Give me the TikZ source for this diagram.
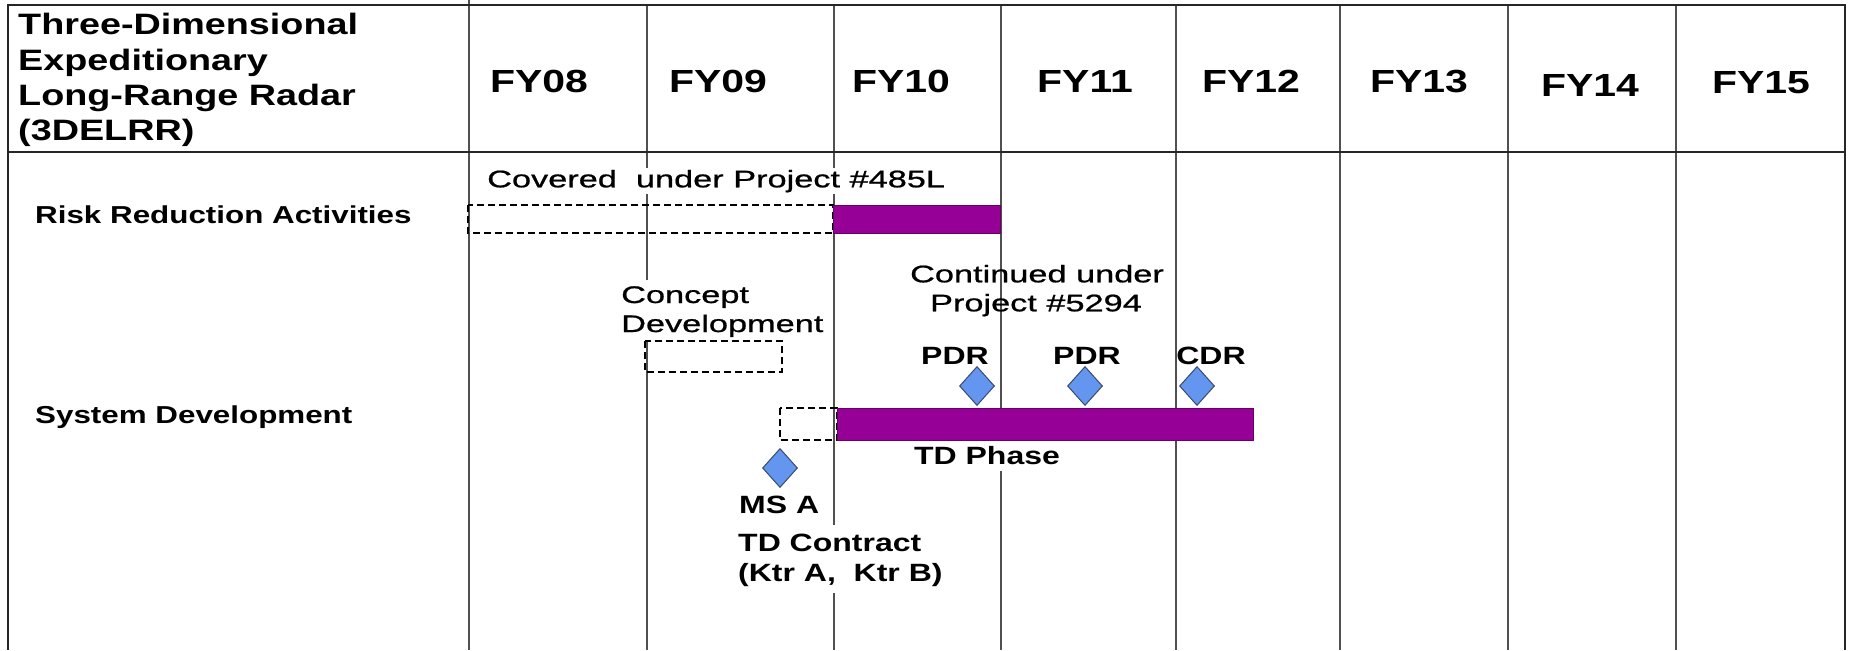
\documentclass[tikz,border=0pt]{standalone}
\usepackage{fontspec}
\setmainfont{Liberation Sans}[FakeStretch=1.28]
\newfontfamily\notefont{Liberation Sans}[FakeStretch=1.43, FakeBold=0.8]
\usetikzlibrary{shapes.geometric}
\definecolor{barpurple}{RGB}{150,0,150}
\definecolor{msblue}{RGB}{100,150,240}
\definecolor{msedge}{RGB}{55,75,110}
\definecolor{gridgray}{RGB}{80,80,80}
\begin{document}
\begin{tikzpicture}[x=1pt,y=-1pt,
  gridline/.style={gridgray, line width=1.3pt},
  frameline/.style={black!85, line width=2.2pt},
  hdr/.style={font=\fontsize{32}{36}\selectfont\bfseries, inner sep=0pt, anchor=base},
  ttl/.style={font=\fontsize{29.5}{35}\selectfont\bfseries, inner sep=0pt, anchor=base west},
  rowlbl/.style={font=\fontsize{24.5}{28}\selectfont\bfseries, inner sep=0pt, anchor=base west},
  note/.style={font=\notefont\fontsize{24}{28}\selectfont, inner sep=0pt},
  bnote/.style={font=\fontsize{25}{29}\selectfont\bfseries, inner sep=0pt},
  bar/.style={fill=barpurple, draw=barpurple!70!black, line width=1pt},
  plan/.style={draw=black, line width=1.3pt, dash pattern=on 7pt off 4pt},
  ms/.style={diamond, fill=msblue, draw=msedge, line width=1pt, minimum width=35pt, minimum height=39pt, inner sep=0pt}
]
\useasboundingbox (0,0) rectangle (1851,650);
\fill[white] (0,0) rectangle (1851,650);

% grid
\foreach \x in {647,834,1001,1176,1340,1508,1676}
  \draw[gridline] (\x,5) -- (\x,650);
\draw[gridline] (469,0) -- (469,650);
\draw[frameline] (8,650) -- (8,5) -- (1845,5) -- (1845,650);
\draw[frameline] (8,152) -- (1845,152);

% header
\node[ttl] (t1) at (18,35) {Three-Dimensional};
\node[ttl] (t2) at (18,70.5) {Expeditionary};
\node[ttl] (t3) at (18,105.5) {Long-Range Radar};
\node[ttl] (t4) at (18,140.5) {(3DELRR)};
\node[hdr] (fy08) at (539,92.5) {FY08};
\node[hdr] (fy09) at (718,92.5) {FY09};
\node[hdr] (fy10) at (901,92.5) {FY10};
\node[hdr] (fy11) at (1085,92.5) {FY11};
\node[hdr] (fy12) at (1251,92.5) {FY12};
\node[hdr] (fy13) at (1419,92.5) {FY13};
\node[hdr] (fy14) at (1590,96.5) {FY14};
\node[hdr] (fy15) at (1761,93.5) {FY15};

% row labels
\node[rowlbl] (rra) at (35,223.8) {Risk Reduction Activities};
\node[rowlbl] (sd) at (35,423.8) {System Development};

% annotations with white background (drawn before the bars)
\node[note, anchor=base west, fill=white, inner sep=2pt] (cov) at (485,187.3) {Covered\ \ under Project \#485L};
\node[note, anchor=base west, fill=white, inner xsep=2pt, inner ysep=6pt] (cd1) at (619,303) {Concept};
\node[note, anchor=base west, fill=white, inner xsep=2pt, inner ysep=4pt] (cd2) at (619,332) {Development};
\node[bnote, anchor=base, fill=white, inner xsep=3pt, inner ysep=7pt] (tdp) at (987,464) {TD Phase};
\node[bnote, anchor=base west, fill=white, inner xsep=3pt, inner ysep=9pt] (tdc1) at (735,551) {TD Contract};
\node[bnote, anchor=base west, fill=white, inner xsep=3pt, inner ysep=7pt] (tdc2) at (735,581) {(Ktr A,\ \ Ktr B)};

% bars
\draw[plan] (468,205) rectangle (833,233);
\draw[bar] (833,205) rectangle (1000,233);
\draw[plan] (645,341) rectangle (782,372);
\draw[plan] (780,408) rectangle (837,440);
\draw[bar] (837,408) rectangle (1253,440);

% milestones
\node[ms] (msa) at (780,468) {};
\node[ms] (pdr1) at (977,386) {};
\node[ms] (pdr2) at (1085,386) {};
\node[ms] (cdr) at (1197,386) {};

% other labels
\node[note, anchor=base] (cu1) at (1037,282.3) {Continued under};
\node[note, anchor=base] (cu2) at (1036,311.3) {Project \#5294};
\node[bnote, anchor=base] (lpdr1) at (955,364) {PDR};
\node[bnote, anchor=base] (lpdr2) at (1087,364) {PDR};
\node[bnote, anchor=base] (lcdr) at (1211,364) {CDR};
\node[bnote, anchor=base west] (lmsa) at (739,513.6) {MS A};
\end{tikzpicture}
\end{document}
